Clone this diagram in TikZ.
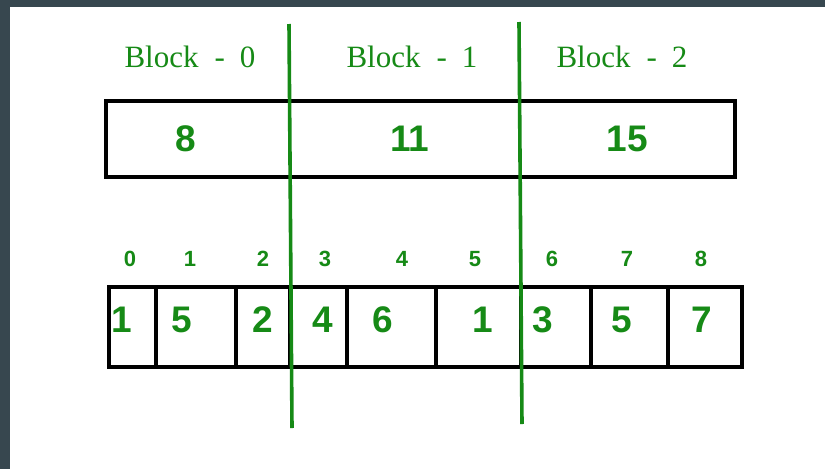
\documentclass[tikz,border=0pt]{standalone}
\usepackage{fontspec}
\setmainfont{Liberation Serif}
\newfontfamily\numfont{Liberation Sans}
\definecolor{frame}{RGB}{55,71,79}
\definecolor{gr}{RGB}{22,138,22}
\begin{document}
\begin{tikzpicture}[x=1pt,y=-1pt,
  lbl/.style={text=gr,font=\fontsize{31}{31}\selectfont,inner sep=0pt,anchor=base},
  big/.style={text=gr,font=\numfont\bfseries\fontsize{37}{37}\selectfont,inner sep=0pt,anchor=base},
  idx/.style={text=gr,font=\numfont\bfseries\fontsize{22}{22}\selectfont,inner sep=0pt,anchor=base},
  cellbox/.style={draw=black,line width=3.1pt},
  divider/.style={draw=gr,line width=3.6pt}]
\useasboundingbox (0,0) rectangle (825,469);
\fill[frame] (0,0) rectangle (825,469);
\fill[white] (10,7) rectangle (825,469);
% block labels
\node[lbl] (b0) at (190,67) {Block\hspace{16pt}-\hspace{15pt}0};
\node[lbl] (b1) at (412,67) {Block\hspace{16pt}-\hspace{15pt}1};
\node[lbl] (b2) at (622,67) {Block\hspace{16pt}-\hspace{15pt}2};
% top box
\draw[cellbox] (106,101) rectangle (735,177);
\node[big] (t0) at (186,151) {8};
\node[big] (t1) at (410,151) {11};
\node[big] (t2) at (627,151) {15};
% bottom array
\draw[cellbox] (109,287) rectangle (742,367);
\foreach \x in {156,236,290,347,436,521,591,668}
  \draw[cellbox] (\x,287) -- (\x,367);
\foreach \v/\x [count=\i from 0] in {1/122,5/182,2/263,4/323,6/383,1/483,3/543,5/622,7/702}
  \node[big] (c\i) at (\x,332) {\v};
\foreach \x [count=\i from 0] in {130,190,263,325,402,475,552,627,701}
  \node[idx] (i\i) at (\x,266) {\i};
% dividers
\coordinate (d1a) at (289,24);
\coordinate (d1b) at (292,428);
\coordinate (d2a) at (519,22);
\coordinate (d2b) at (522,424);
\draw[divider] (d1a) -- (d1b);
\draw[divider] (d2a) -- (d2b);
\end{tikzpicture}
\end{document}
